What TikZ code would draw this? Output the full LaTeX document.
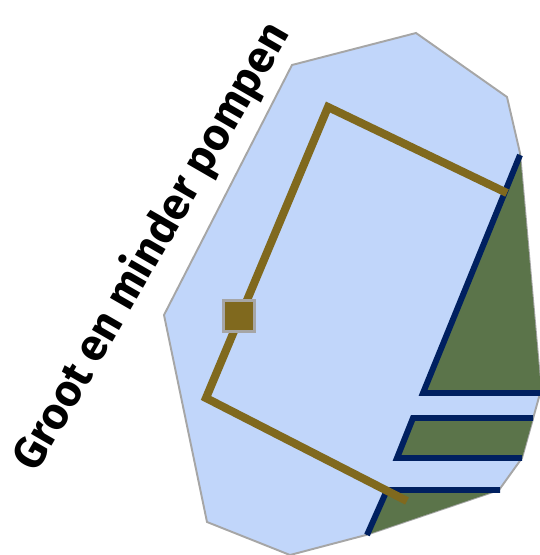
\documentclass[tikz,border=0pt]{standalone}
\usepackage{fontspec}
\setsansfont{Fira Sans}
\definecolor{polderblue}{RGB}{193,214,250}
\definecolor{randgrey}{RGB}{166,166,166}
\definecolor{landgreen}{RGB}{91,116,74}
\definecolor{dijknavy}{RGB}{0,32,96}
\definecolor{leidingolive}{RGB}{128,105,30}

\begin{document}
\begin{tikzpicture}[x=0.02cm, y=-0.02cm,
    dijk/.style={draw=dijknavy, line width=3.4pt},
    strook/.style={fill=landgreen},
    leiding/.style={draw=leidingolive, line width=4.6pt},
    pompbox/.style={draw=randgrey, line width=1.3pt, fill=leidingolive,
                    minimum size=0.62cm, inner sep=0pt}]
  \useasboundingbox (0,0) rectangle (539,555);
  % Polder outline
  \filldraw[fill=polderblue, draw=randgrey, line width=1.1pt]
    (292,65) -- (416,33) -- (507,97) -- (520,153) -- (541,390) -- (522,458)
    -- (499,490) -- (366,535) -- (290,555) -- (207,522) -- (164,315) -- cycle;
  % Green strips
  \fill[strook] (520,153) -- (423,393) -- (540.2,393) -- (541,390) -- cycle;
  \fill[strook] (413,418) -- (533.2,418) -- (522,458) -- (397,458) -- cycle;
  \fill[strook] (387,490) -- (499,490) -- (366,535) -- cycle;
  % Dikes
  \coordinate (d1a) at (520,155); \coordinate (d1b) at (423,393); \coordinate (d1c) at (540,393);
  \coordinate (d2a) at (533,418); \coordinate (d2b) at (413,418);
  \coordinate (d2c) at (397,458); \coordinate (d2d) at (522,458);
  \coordinate (d3a) at (500,490); \coordinate (d3b) at (387,490); \coordinate (d3c) at (367,535);
  \draw[dijk] (d1a) -- (d1b) -- (d1c);
  \draw[dijk] (d2a) -- (d2b) -- (d2c) -- (d2d);
  \draw[dijk] (d3a) -- (d3b) -- (d3c);
  % Pipe with pump
  \coordinate (l1) at (507,193); \coordinate (l2) at (328,107);
  \coordinate (l3) at (206,398); \coordinate (l4) at (407,501);
  \draw[leiding] (l1) -- (l2) -- (l3) -- (l4);
  \node[pompbox] (pomp) at (239,316) {};
  % Title
  \node[rotate=60, font=\sffamily\bfseries\fontsize{25.3}{30}\selectfont] (titel) at (152,247)
    {Groot en minder pompen};
\end{tikzpicture}
\end{document}
